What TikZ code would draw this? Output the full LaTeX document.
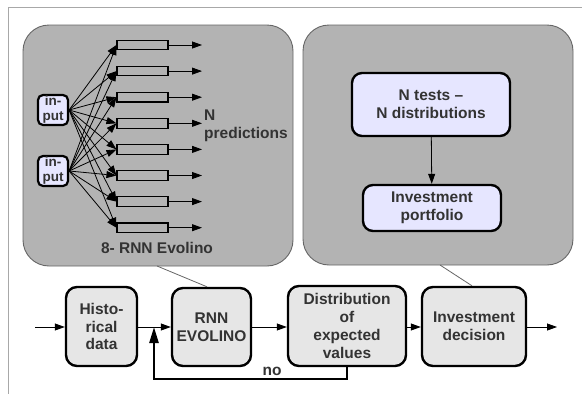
\documentclass[tikz,border=0pt]{standalone}
\usepackage{fontspec}
\setmainfont{Liberation Sans}
\usetikzlibrary{arrows.meta,calc}
\definecolor{txt}{HTML}{333333}
\definecolor{panelfill}{HTML}{B3B3B3}
\definecolor{paneldraw}{HTML}{666666}
\definecolor{boxgray}{HTML}{E6E6E6}
\definecolor{lav}{HTML}{E6E6FF}
\definecolor{framec}{HTML}{A8A8A8}
\begin{document}
\begin{tikzpicture}[x=1pt,y=-1pt,
  lbl/.style={font=\fontsize{15.5}{17.7}\selectfont\bfseries,text=txt,align=center,inner sep=0pt},
  panel/.style={draw=paneldraw,line width=0.9pt,fill=panelfill,rounded corners=26pt,inner sep=0pt},
  rowbox/.style={lbl,draw=black,line width=2.4pt,fill=boxgray,rounded corners=11pt},
  lavbox/.style={lbl,draw=black,line width=2.4pt,fill=lav,rounded corners=10pt},
  inbox/.style={draw=black,line width=2.2pt,fill=lav,rounded corners=5pt,inner sep=0pt,
    font=\fontsize{13.5}{15}\selectfont\bfseries,text=txt,align=center,
    minimum width=30pt,minimum height=30pt},
  cell/.style={draw=black,line width=1.1pt,inner sep=0pt,minimum width=51pt,minimum height=9.5pt},
  arr/.style={line width=0.8pt,-{Triangle[length=10pt,width=7pt]}},
  fbarr/.style={line width=2.4pt,-{Triangle[length=16pt,width=9pt]}},
  link/.style={draw=paneldraw,line width=0.8pt}
]
\useasboundingbox (0,0) rectangle (582,394);
% frame
\draw[framec,line width=1pt] (582,7) -- (8,7) -- (8,394);

% panels
\node[panel,minimum width=270pt,minimum height=241pt] (lp) at (158,145.5) {};
\node[panel,minimum width=270pt,minimum height=240pt] (rp) at (438,145) {};

% left panel content
\node[inbox] (in1) at (53,110) {in-\\put};
\node[inbox] (in2) at (53,171) {in-\\put};
\foreach \i in {0,...,7}{
  \node[cell] (c\i) at (142.5,{45+26.1*\i}) {};
  \coordinate (o\i) at (202,{45+26.1*\i});
  \draw[arr] (c\i.east) -- (o\i);
  \draw[arr] (in1.east) -- (c\i.west);
  \draw[arr] (in2.east) -- (c\i.west);
}
\node[lbl,align=left,anchor=west] (np) at (204,126) {N\\predictions};
\node[lbl] (lt) at (157,248) {8- RNN Evolino};

% right panel content
\node[lavbox,minimum width=158pt,minimum height=63pt] (nt) at (431,104.5) {N tests --\\N distributions};
\node[lavbox,minimum width=138pt,minimum height=46pt] (ip) at (432,208) {Investment\\portfolio};
\draw[arr] (nt) -- (ip);

% bottom row
\node[rowbox,minimum width=71pt,minimum height=79pt] (hd) at (101.5,326.5) {Histo-\\rical\\data};
\node[rowbox,minimum width=79pt,minimum height=78pt] (rnn) at (211.5,327) {RNN\\EVOLINO};
\node[rowbox,minimum width=118pt,minimum height=80pt] (dist) at (347,326) {Distribution\\of\\expected\\values};
\node[rowbox,minimum width=104pt,minimum height=79pt] (inv) at (474,326.5) {Investment\\decision};
\coordinate (start) at (35,327);
\coordinate (end) at (557,327);
\draw[arr] (start) -- (hd.west |- start);
\draw[arr] (hd.east |- start) -- (rnn.west |- start);
\draw[arr] (rnn.east |- start) -- (dist.west |- start);
\draw[arr] (dist.east |- start) -- (inv.west |- start);
\draw[arr] (inv.east |- start) -- (end);

% feedback
\coordinate (fb) at (154,379);
\draw[fbarr] (dist.south) |- (fb) -- (fb |- start);
\node[lbl] (no) at (272,371) {no};

% links between panels and row
\coordinate (l1) at (157,266);
\coordinate (l2) at (440,265);
\draw[link] (l1) -- (rnn.north -| 207,0);
\draw[link] (l2) -- (inv.north -| 472,0);
\end{tikzpicture}
\end{document}
